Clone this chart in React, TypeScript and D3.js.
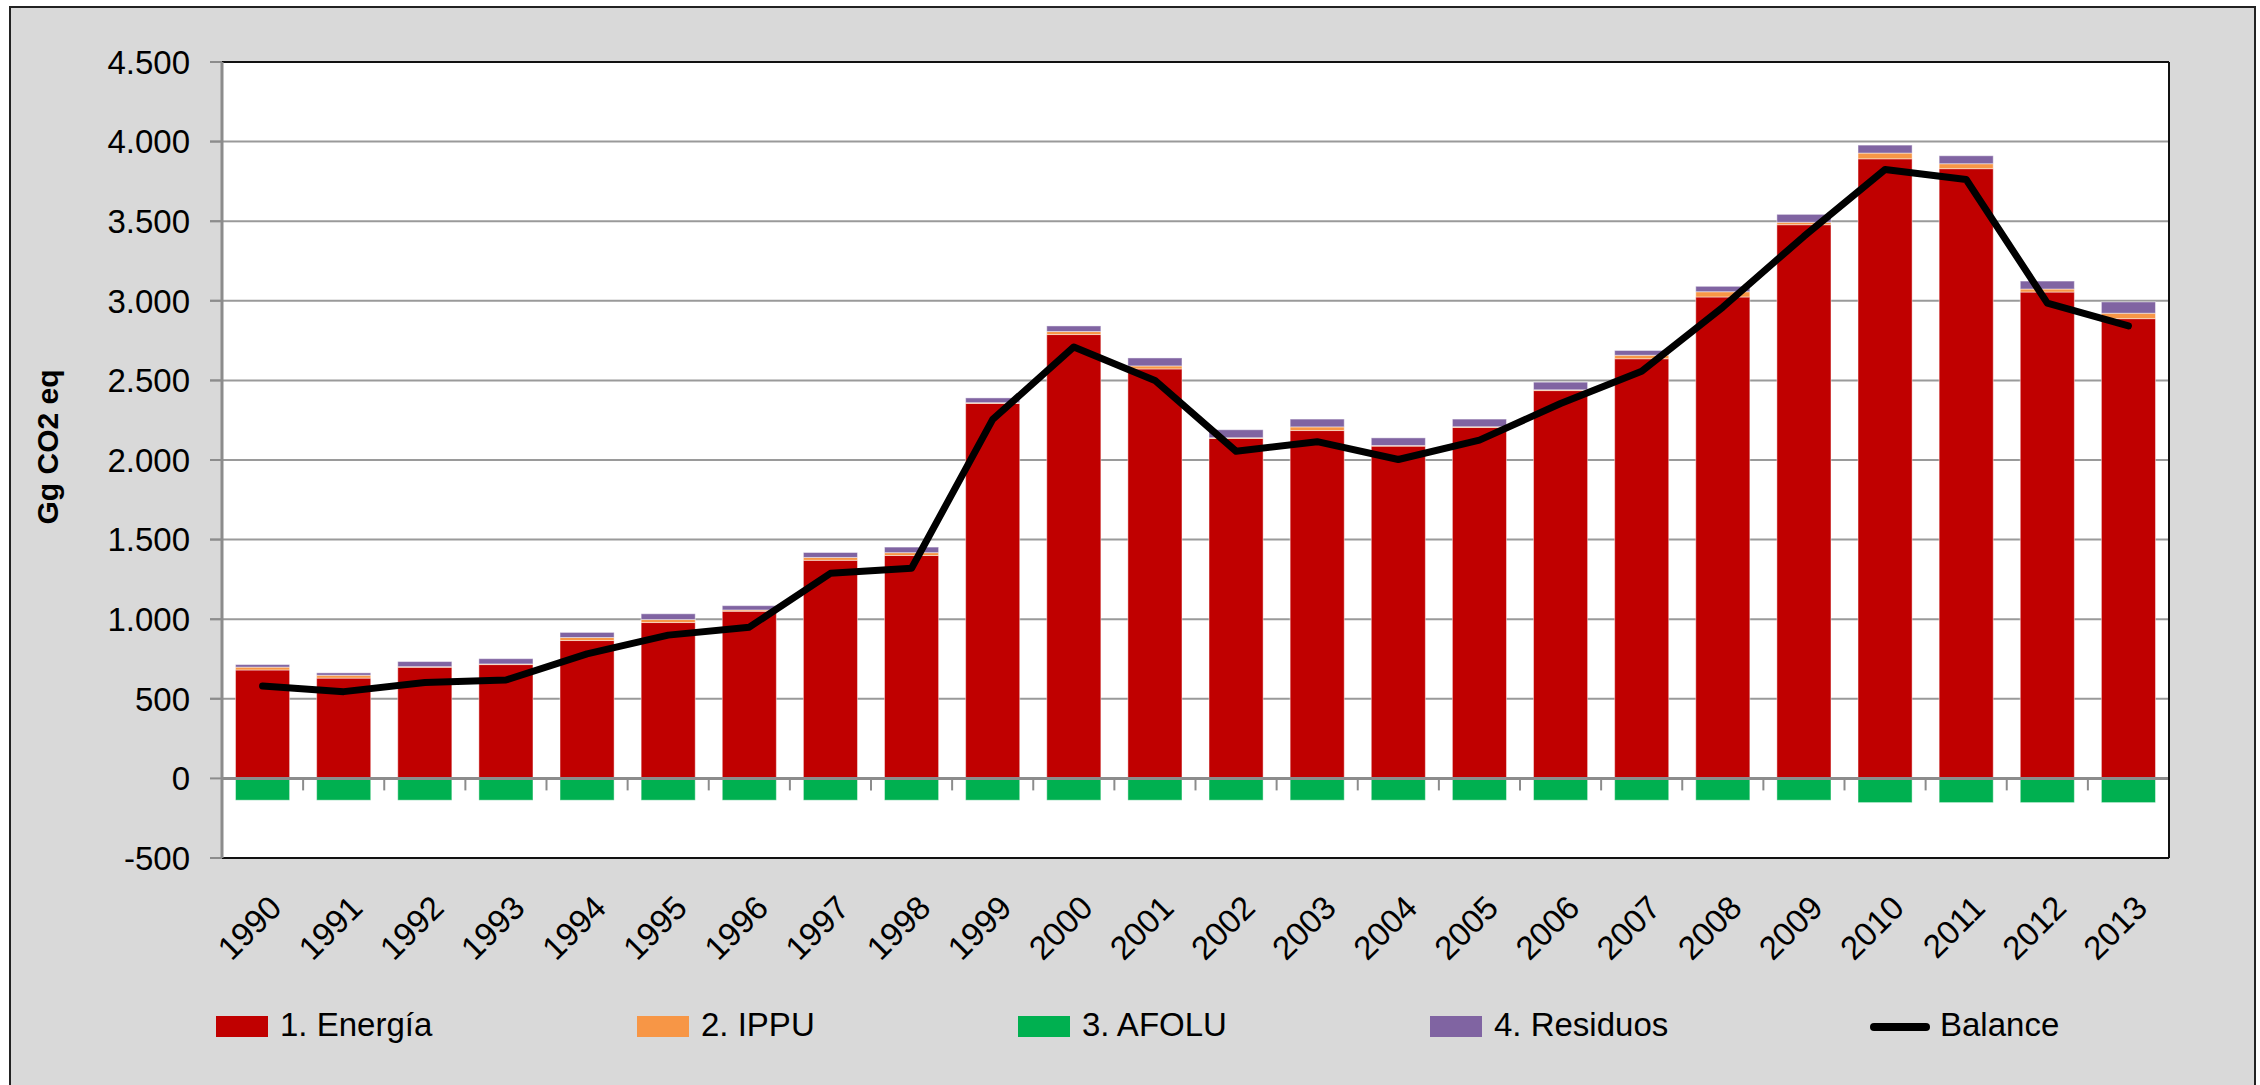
import * as d3 from 'd3';

const years = ['1990', '1991', '1992', '1993', '1994', '1995', '1996', '1997', '1998', '1999', '2000', '2001',
  '2002', '2003', '2004', '2005', '2006', '2007', '2008', '2009', '2010', '2011', '2012', '2013'];

const energia = [681, 630, 698, 715, 866, 979, 1050, 1370, 1400, 2355, 2788, 2572,
  2135, 2185, 2087, 2204, 2436, 2636, 3024, 3478, 3892, 3830, 3055, 2888];
const ippu = [18, 18, 4, 4, 19, 19, 8, 18, 18, 5, 19, 19,
  5, 23, 4, 5, 5, 22, 33, 15, 36, 31, 19, 34];
const afolu = [-137, -137, -137, -137, -137, -137, -137, -137, -137, -137, -137, -137,
  -137, -137, -137, -137, -137, -137, -137, -137, -152, -152, -152, -152];
const residuos = [16, 15, 32, 33, 32, 36, 27, 31, 35, 30, 35, 50,
  50, 49, 48, 48, 48, 30, 34, 50, 50, 50, 50, 71];
const balance = [580, 545, 603, 618, 782, 900, 950, 1288, 1320, 2255, 2710, 2500,
  2055, 2115, 2003, 2125, 2355, 2557, 2960, 3405, 3825, 3762, 2985, 2842];

const yTicks = [-500, 0, 500, 1000, 1500, 2000, 2500, 3000, 3500, 4000, 4500];

const series = [
  { key: 'energia', label: '1. Energía', color: '#C00000', values: energia },
  { key: 'ippu', label: '2. IPPU', color: '#F79646', values: ippu },
  { key: 'afolu', label: '3. AFOLU', color: '#00B050', values: afolu },
  { key: 'residuos', label: '4. Residuos', color: '#8064A2', values: residuos },
];

const W = 2260;
const H = 1085;
const plot = { left: 222, right: 2169, top: 62, bottom: 858 };
const font = '"Liberation Sans", Arial, sans-serif';

// 1.000 style thousands separator, plain hyphen for negatives
const fmt = (v: number) => d3.format(',')(v).replace(/,/g, '.').replace('\u2212', '-');

export default function App() {
  const x = d3.scaleBand<string>()
    .domain(years)
    .range([plot.left, plot.right])
    .paddingInner(1 / 3)
    .paddingOuter(1 / 6);

  const y = d3.scaleLinear().domain([-500, 4500]).range([plot.bottom, plot.top]);

  const rows = years.map((yr, i) => {
    const r: any = { year: yr };
    series.forEach(s => { r[s.key] = s.values[i]; });
    return r;
  });

  const stacked = d3.stack<any>()
    .keys(series.map(s => s.key))
    .offset(d3.stackOffsetDiverging)(rows);

  const line = d3.line<number>()
    .x((_, i) => (x(years[i]) as number) + x.bandwidth() / 2)
    .y(d => y(d));

  const step = x.step();
  const boundaries = d3.range(years.length + 1).map(i => plot.left + i * step);

  const legendItems = [
    { label: series[0].label, color: series[0].color, x: 216, type: 'rect' },
    { label: series[1].label, color: series[1].color, x: 637, type: 'rect' },
    { label: series[2].label, color: series[2].color, x: 1018, type: 'rect' },
    { label: series[3].label, color: series[3].color, x: 1430, type: 'rect' },
    { label: 'Balance', color: '#000', x: 1870, type: 'line' },
  ];

  return (
    <>
      <style>{'body{margin:0}'}</style>
      <svg width={W} height={H} style={{ display: 'block', background: '#fff' }} fontFamily={font}>
        <rect x={10} y={7} width={2245} height={1080} fill="#D9D9D9" stroke="#222" strokeWidth={2} />
        <rect x={plot.left} y={plot.top} width={plot.right - plot.left} height={plot.bottom - plot.top} fill="#fff" />

        {/* gridlines */}
        {yTicks.map(t => (
          <line key={t} x1={plot.left - 12} x2={plot.right} y1={y(t)} y2={y(t)}
            stroke="#9A9A9A" strokeWidth={t === 0 ? 0 : 2} />
        ))}
        {yTicks.map(t => (
          <line key={'tk' + t} x1={plot.left - 12} x2={plot.left} y1={y(t)} y2={y(t)}
            stroke="#8C8C8C" strokeWidth={2} />
        ))}

        {/* bars */}
        {stacked.map((layer, li) => (
          <g key={layer.key} fill={series[li].color}>
            {layer.map((d, i) => (
              <rect key={i}
                x={x(years[i])}
                width={x.bandwidth()}
                y={y(Math.max(d[0], d[1]))}
                height={Math.abs(y(d[0]) - y(d[1]))}
                stroke="#fff" strokeOpacity={0.45} strokeWidth={1} />
            ))}
          </g>
        ))}

        {/* zero axis with category ticks */}
        <line x1={plot.left} x2={plot.right} y1={y(0)} y2={y(0)} stroke="#8C8C8C" strokeWidth={3} />
        {boundaries.map((bx, i) => (
          <line key={'b' + i} x1={bx} x2={bx} y1={y(0)} y2={y(0) + 12} stroke="#8C8C8C" strokeWidth={2} />
        ))}

        {/* plot border */}
        <line x1={plot.left} x2={plot.right} y1={plot.top} y2={plot.top} stroke="#111" strokeWidth={2} />
        <line x1={plot.left} x2={plot.right} y1={plot.bottom} y2={plot.bottom} stroke="#111" strokeWidth={2} />
        <line x1={plot.right} x2={plot.right} y1={plot.top} y2={plot.bottom} stroke="#111" strokeWidth={2} />
        <line x1={plot.left} x2={plot.left} y1={plot.top} y2={plot.bottom} stroke="#8C8C8C" strokeWidth={3} />

        {/* balance line */}
        <path d={line(balance) || ''} fill="none" stroke="#000" strokeWidth={7}
          strokeLinejoin="round" strokeLinecap="round" />

        {/* y labels */}
        {yTicks.map(t => (
          <text key={'l' + t} x={190} y={y(t)} dy="0.36em" textAnchor="end" fontSize={33} fill="#000">
            {fmt(t)}
          </text>
        ))}
        <text transform={`translate(58,447) rotate(-90)`} textAnchor="middle" fontSize={30}
          fontWeight="bold" fill="#000">Gg CO2 eq</text>

        {/* x labels */}
        {years.map(yr => (
          <text key={yr}
            transform={`translate(${(x(yr) as number) + x.bandwidth() / 2 + 4},${893}) rotate(-45)`}
            textAnchor="end" dy="0.72em" fontSize={33} fill="#000">{yr}</text>
        ))}

        {/* legend */}
        {legendItems.map(item => (
          <g key={item.label}>
            {item.type === 'rect'
              ? <rect x={item.x} y={1016} width={52} height={21} fill={item.color} />
              : <line x1={item.x + 4} x2={item.x + 56} y1={1027} y2={1027} stroke="#000" strokeWidth={8} strokeLinecap="round" />}
            <text x={item.x + (item.type === 'rect' ? 64 : 70)} y={1036} fontSize={33} fill="#000">{item.label}</text>
          </g>
        ))}
      </svg>
    </>
  );
}
